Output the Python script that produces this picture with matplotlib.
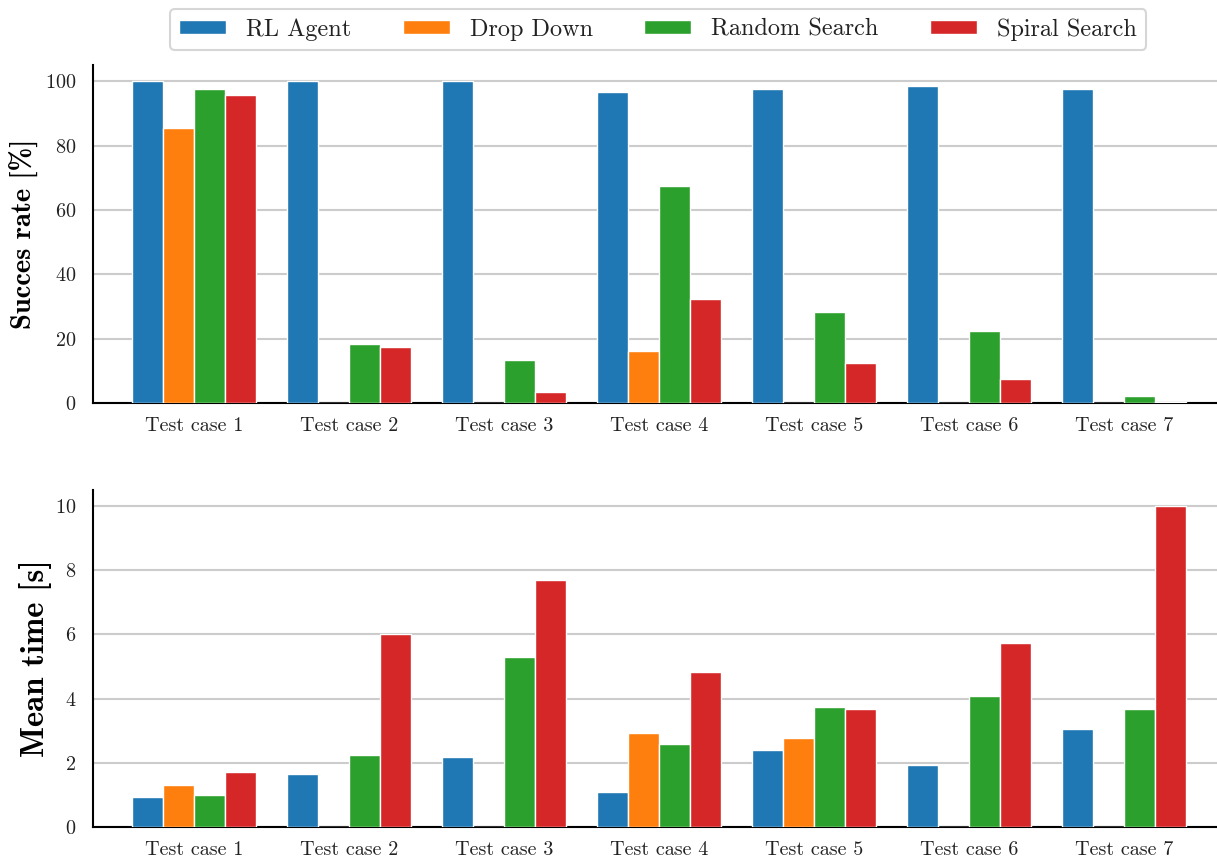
#!/usr/bin/env python3
"""Success rate and mean time per test case for the four search strategies."""

import numpy as np
import matplotlib
matplotlib.use('Agg')
import matplotlib.pyplot as plt

plt.rcParams['font.family'] = 'cmr10'
plt.rcParams['axes.formatter.use_mathtext'] = True
plt.rcParams['text.color'] = '#222222'
plt.rcParams['xtick.color'] = '#222222'
plt.rcParams['ytick.color'] = '#222222'

# Data
test_cases = ['Test case 1', 'Test case 2', 'Test case 3', 'Test case 4',
              'Test case 5', 'Test case 6', 'Test case 7']
methods = ['RL Agent', 'Drop Down', 'Random Search', 'Spiral Search']
colors = ['#1f77b4', '#ff7f0e', '#2ca02c', '#d62728']

success_rl = [100, 100, 100, 96.6, 97.5, 98.6, 97.5]
success_drop = [85.5, 0, 0, 16.3, 0, 0, 0]
success_random = [97.6, 18.4, 13.4, 67.5, 28.4, 22.4, 2.3]
success_spiral = [95.6, 17.5, 3.3, 32.4, 12.4, 7.4, 0.4]

time_rl = [0.94, 1.66, 2.18, 1.08, 2.39, 1.94, 3.06]
time_drop = [1.30, 0, 0, 2.92, 2.77, 0, 0]
time_random = [0.99, 2.25, 5.29, 2.59, 3.73, 4.09, 3.67]
time_spiral = [1.70, 6.00, 7.68, 4.83, 3.66, 5.73, 10.0]


def draw_panel(ax, series, ylabel, ylim, label_size, label_pad):
    x = np.arange(len(test_cases))
    width = 0.2
    bars = []
    for k, (vals, col, name) in enumerate(zip(series, colors, methods)):
        b = ax.bar(x + (k - 1.5) * width, vals, width, color=col,
                   edgecolor='white', linewidth=1.0, label=name, zorder=3)
        bars.append(b)
    ax.set_xticks(x)
    ax.set_xticklabels(test_cases)
    ax.set_xlim(-0.65, 6.6)
    ax.set_ylim(*ylim)
    ax.tick_params(axis='y', length=0, pad=12, labelsize=14.5)
    ax.tick_params(axis='x', length=0, pad=10, labelsize=14.5)
    ax.set_ylabel(ylabel, fontsize=label_size, fontfamily='cmb10',
                  labelpad=label_pad)
    ax.yaxis.grid(True, color='#cccccc', linewidth=1.5, zorder=0)
    ax.set_axisbelow(True)
    for side in ['top', 'right']:
        ax.spines[side].set_visible(False)
    for side in ['left', 'bottom']:
        ax.spines[side].set_color('black')
        ax.spines[side].set_linewidth(1.5)
    return bars


fig = plt.figure(figsize=(12.17, 8.59), dpi=100)
ax1 = fig.add_axes([0.0764, 0.5308, 0.9236, 0.3935])
ax2 = fig.add_axes([0.0764, 0.0373, 0.9236, 0.3923])

bars = draw_panel(ax1, [success_rl, success_drop, success_random, success_spiral],
                  'Succes rate [%]', (0, 105), 20.5, 5)
ax1.set_yticks([0, 20, 40, 60, 80, 100])
draw_panel(ax2, [time_rl, time_drop, time_random, time_spiral],
           'Mean time [s]', (0, 10.5), 23.5, 2)
ax2.set_yticks([0, 2, 4, 6, 8, 10])

leg = fig.legend(handles=bars, labels=methods, loc='upper center',
                 bbox_to_anchor=(0.5407, 0.9895), borderaxespad=0, ncol=4,
                 fontsize=17.5, frameon=True, fancybox=True,
                 handlelength=1.93, handleheight=0.53, handletextpad=0.82,
                 columnspacing=2.13, borderpad=0.38)
leg.get_frame().set_edgecolor('#cccccc')
leg.get_frame().set_linewidth(1.5)

fig.savefig('out.png', dpi=100)
plt.close(fig)
